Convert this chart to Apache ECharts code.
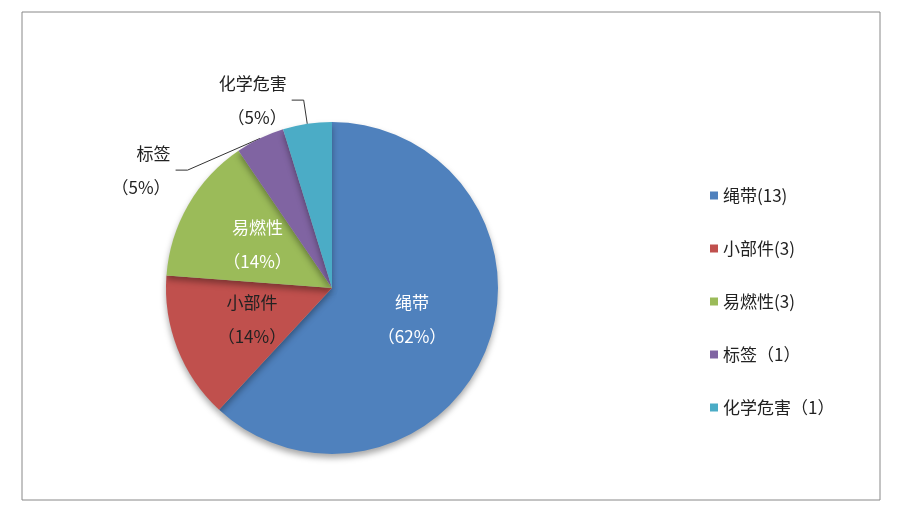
<!DOCTYPE html><html><head><meta charset="utf-8">
<script src="https://cdn.jsdelivr.net/npm/echarts@6/dist/echarts.min.js"></script>
<style>html,body{margin:0;background:#fff}#c{width:900px;height:516px}</style></head><body><div id="c"></div>
<script>
const categories=['绳带','小部件','易燃性','标签','化学危害'];
const values=[13,3,3,1,1];
const legendLabels=['绳带(13)','小部件(3)','易燃性(3)','标签（1）','化学危害（1）'];
const colors=['#4F81BD','#C0504D','#9BBB59','#8064A2','#4BACC6'];
const total=values.reduce((a,b)=>a+b,0);
const labelColors=['#fff','#222','#fff','#222','#222'];
const inside=[true,true,true,false,false];
const data=categories.map((n,i)=>({name:n,value:values[i],itemStyle:{color:colors[i]},
 label:{position:inside[i]?'inner':'outside',color:labelColors[i]},
 labelLine:{show:!inside[i]}}));
const ch=echarts.init(document.getElementById('c'));
ch.setOption({
 graphic:[{type:'rect',shape:{x:22,y:12,width:858,height:488},style:{fill:'none',stroke:'#888',lineWidth:1}}],
 legend:{orient:'vertical',left:705,top:182,itemWidth:8,itemHeight:8,itemGap:36,icon:'rect',
  textStyle:{fontSize:17,color:'#222',fontFamily:'Noto Sans CJK SC'},
  formatter:n=>legendLabels[categories.indexOf(n)],data:categories},
 series:[{type:'pie',center:[332,288],radius:[0,166],startAngle:90,clockwise:true,data,
  itemStyle:{shadowBlur:6,shadowOffsetY:4,shadowColor:'rgba(0,0,0,0.35)'},
  label:{fontSize:17,lineHeight:34,fontFamily:'Noto Sans CJK SC',align:'center',
   formatter:p=>p.name+'\n（'+Math.round(p.value/total*100)+'%）'},
  labelLine:{length:24,length2:12,lineStyle:{color:'#333'}},
  emphasis:{disabled:true}}]
});
</script></body></html>
